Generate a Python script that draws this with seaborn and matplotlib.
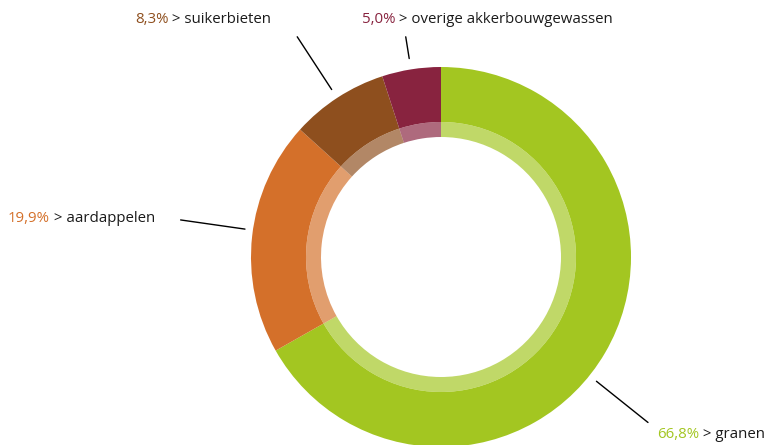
import numpy as np
import matplotlib
matplotlib.use("Agg")
import matplotlib.pyplot as plt
import seaborn as sns

# data
gewassen = ["granen", "aardappelen", "suikerbieten", "overige akkerbouwgewassen"]
aandeel = [66.8, 19.9, 8.3, 5.0]
kleuren = ["#a3c621", "#d4702a", "#8e4f1e", "#88233f"]

# label placement (pixels, y from top) and leader line tweaks
label_pos = [(657, 438), (8, 222), (135, 23), (362, 23)]
lijn_hoek_extra = [-8.4, -1.8, 0.2, 0.1]
lijn_r = [(199, 265), (198, 263), (200, 263), (201, 223)]

sns.set_theme(style="white")
plt.rcParams['font.family'] = ['Open Sans', 'DejaVu Sans']

W, H = 778, 445
fig = plt.figure(figsize=(W / 100, H / 100), dpi=100)
ax = fig.add_axes([0, 0, 1, 1])

cx, cy = 441, H - 257
R = 190

# main ring
ax.pie(aandeel, colors=kleuren, startangle=90, counterclock=False,
       radius=R, center=(cx, cy), frame=True,
       wedgeprops=dict(width=R - 135, linewidth=0))
# inner light ring
ax.pie(aandeel, colors=kleuren, startangle=90, counterclock=False,
       radius=135, center=(cx, cy), frame=True,
       wedgeprops=dict(width=15, alpha=0.68, linewidth=0))
ax.set_xlim(0, W)
ax.set_ylim(0, H)
ax.set_aspect("equal")
ax.axis("off")

cum = np.cumsum([0] + aandeel[:-1])
for i, naam in enumerate(gewassen):
    mid = 90 - (cum[i] + aandeel[i] / 2) * 3.6 + lijn_hoek_extra[i]
    a = np.deg2rad(mid)
    r1, r2 = lijn_r[i]
    ax.plot([cx + r1 * np.cos(a), cx + r2 * np.cos(a)],
            [cy + r1 * np.sin(a), cy + r2 * np.sin(a)],
            color="black", lw=1)
    x, y = label_pos[i]
    pct = f"{aandeel[i]:.1f}%".replace(".", ",")
    t = ax.text(x, H - y, pct, color=kleuren[i], fontsize=10.8, va="baseline", ha="left")
    ax.annotate(" > " + naam, xy=(1, 0), xycoords=t, va="bottom", ha="left",
                fontsize=10.8, color="#1a1a1a")

fig.savefig("out.png", dpi=100)
